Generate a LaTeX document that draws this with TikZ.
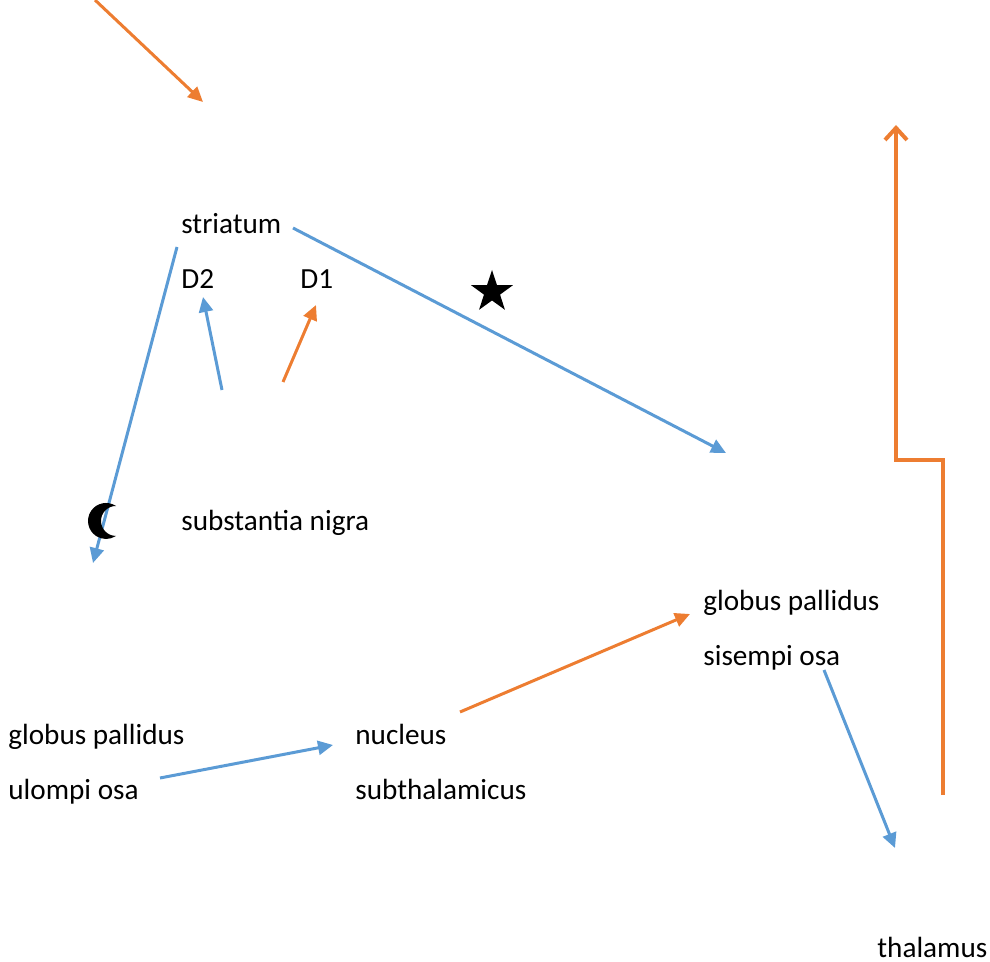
\documentclass[tikz,border=0pt]{standalone}
\usepackage{fontspec}
\setmainfont{Carlito}
\usepackage{xcolor}
\usetikzlibrary{arrows.meta,shapes.geometric,positioning}
\definecolor{pathblue}{HTML}{5B9BD5}
\definecolor{pathorange}{HTML}{ED7D31}

\begin{document}
\begin{tikzpicture}[x=0.5pt,y=-0.5pt,
                    lbl/.style={anchor=base west, inner sep=0pt, font=\fontsize{14.6}{17}\selectfont},
                    inhib/.style={line width=1.5pt, pathblue, -{Triangle[length=7.5pt,width=7pt]}},
                    excit/.style={line width=1.5pt, pathorange, -{Triangle[length=7.5pt,width=7pt]}},
                    output/.style={line width=2pt, pathorange, line join=miter,
                                   -{Straight Barb[length=6pt,width=11pt,line width=2pt]}},
                   ]

\useasboundingbox (0,0) rectangle (990,962);

% labels
\node[lbl] (striatum) at (181,234) {striatum};
\node[lbl] (dtwo) at (181,289) {D2};
\node[lbl] (done) at (300,289) {D1};
\node[lbl] (nigra) at (181,530) {substantia nigra};
\node[lbl] (gpe) at (8,744) {globus pallidus};
\node[lbl] (gpe2) at (8,799) {ulompi osa};
\node[lbl] (stn) at (355,744) {nucleus};
\node[lbl] (stn2) at (355,799) {subthalamicus};
\node[lbl] (gpi) at (703,610) {globus pallidus};
\node[lbl] (gpi2) at (703,665) {sisempi osa};
\node[lbl] (thal) at (877,957) {thalamus};

% end points
\coordinate (ctx) at (95,0);
\coordinate (ctxin) at (203,102);
\coordinate (sndtwo) at (222,390);
\coordinate (dtwoin) at (203,297);
\coordinate (sndone) at (283,382);
\coordinate (donein) at (316,305);
\coordinate (indout) at (177,247);
\coordinate (indin) at (93,563);
\coordinate (dirout) at (293,228);
\coordinate (dirin) at (726,453);
\coordinate (gpeout) at (160,778);
\coordinate (stnin) at (333,745);
\coordinate (stnout) at (460,712);
\coordinate (gpiin) at (690,614);
\coordinate (gpiout) at (824,670);
\coordinate (thalin) at (895,848);
\coordinate (thalout) at (943,795);
\coordinate (bend) at (943,460);
\coordinate (ctxback) at (896,125);

\draw[excit] (ctx) -- (ctxin);
\draw[inhib] (sndtwo) -- (dtwoin);
\draw[excit] (sndone) -- (donein);
\draw[inhib] (indout) -- (indin);
\draw[inhib] (dirout) -- (dirin);
\draw[inhib] (gpeout) -- (stnin);
\draw[excit] (stnout) -- (gpiin);
\draw[inhib] (gpiout) -- (thalin);
\draw[output] (thalout) -- (bend) -| (ctxback);

% markers
\node[star, star points=5, star point ratio=2.6, fill=black, inner sep=0pt,
      minimum size=22pt] (mark) at (492,292) {};
\fill (116,506) arc[start angle=56.3, end angle=303.7, radius=9pt]
      arc[start angle=270, end angle=90, radius=7.5pt] -- cycle;

\end{tikzpicture}
\end{document}
